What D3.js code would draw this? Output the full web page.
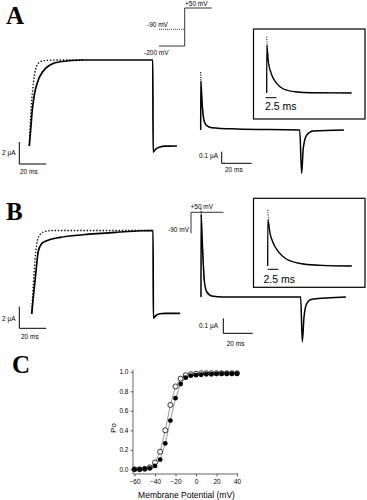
<!DOCTYPE html>
<html>
<head>
<meta charset="utf-8">
<script src="https://cdn.jsdelivr.net/npm/d3@7"></script>
<style>
body { margin: 0; background: #fff; }
svg { display: block; }
text { font-family: "Liberation Sans", Arial, sans-serif; fill: #000; }
.lbl { font-size: 6.5px; }
.ins { font-size: 10.5px; }
.big { font-family: "Liberation Serif", "Times New Roman", serif; font-weight: bold; font-size: 25px; }
</style>
</head>
<body>
<div id="chart"></div>
<script>
// ----------------------------------------------------------
// DATA (time in ms, current in µA)

// panel A, long step current
const aSolid = [[0,0],[1.0,1.45],[2.2,3.27],[3.7,4.64],[6.2,5.85],[9.9,6.75],[15.3,7.36],[22.7,7.66],[39.8,7.82],[91.5,7.82],[91.7,-0.55],[93.8,-0.27],[96.8,-0.09],[100.5,-0.02],[109.4,0]]
const aDotted = [[0,0],[1.26,3.27],[2.5,5.1],[3.7,6.36],[5.5,7.27],[7.9,7.64],[11.6,7.77],[22.7,7.82],[40,7.82]]
// panel A, gating transient
const aTransSolid = [[0,0],[0.05,0.42],[1.1,0.2],[2.4,0.072],[4,0.037],[7.3,0.02],[24,0.009],[66,0],[67.3,-0.373],[68.4,-0.155],[70.7,-0.043],[75,-0.009],[95.5,0]]
const aTransDotted = [[0,0.5],[0.5,0.3],[1.1,0.21],[2.4,0.075],[4,0.038]]
const aInsetSolid = [[0,0],[0.02,0.417],[0.36,0.272],[1.14,0.157],[2.27,0.084],[3.77,0.035],[6.4,0.011],[10.2,0.002],[19.3,0]]
const aInsetDotted = [[0,0.49],[0.36,0.29],[1.14,0.165],[2.27,0.088],[3.77,0.037],[6.4,0.012],[10.2,0.003],[19.3,0]]

// panel B
const bSolid = [[0,0],[1.2,1.57],[3.2,4.0],[4.9,5.82],[7.4,6.52],[11.1,6.79],[21,7.09],[38,7.34],[63,7.57],[89.9,7.73],[90.1,-0.39],[92,-0.14],[95,0.02],[98.7,0.06],[110,0.06]]
const bDotted = [[0,0],[1.2,2.82],[2.4,4.9],[3.7,6.45],[6.1,7.36],[9.9,7.64],[15.8,7.73],[90,7.73]]
const bTransSolid = [[0,0],[0.05,0.55],[0.9,0.358],[2.2,0.113],[3.9,0.035],[7.3,0.007],[15,0],[67.8,0],[68.9,-0.298],[70.1,-0.131],[72,-0.042],[75.4,-0.015],[98.6,0]]
const bTransDotted = [[0,0.59],[0.4,0.45],[0.9,0.36],[2.2,0.115]]
const bInsetSolid = [[0,0],[0.02,0.548],[0.54,0.389],[1.32,0.27],[2.5,0.17],[4.47,0.08],[8.4,0.024],[12.3,0.008],[19.8,0]]
const bInsetDotted = [[0,0.667],[0.3,0.5],[0.54,0.41],[1.32,0.28],[2.5,0.175],[4.47,0.082],[8.4,0.025],[19.8,0]]

// voltage protocols (mV) and times (ms)
const protoPreA = [-200, -90]
const protoStep = 50
const protoTimesA = [-19, 0, 20]
const protoPreB = -90
const protoTimesB = [0, 24]

// panel C, open probability vs membrane potential
const voltages = [-60,-55,-50,-45,-40,-35,-30,-25,-20,-15,-10,-5,0,5,10,15,20,25,30,35,40]
const poFilled = [0,0,0.005,0.01,0.035,0.10,0.265,0.50,0.73,0.875,0.94,0.96,0.965,0.97,0.975,0.975,0.978,0.98,0.98,0.98,0.98]
const poOpen = [0,0,0.005,0.02,0.07,0.18,0.40,0.66,0.85,0.93,0.965,0.975,0.98,0.985,0.985,0.985,0.985,0.985,0.985,0.985,0.985]
const xTicks = [-60,-40,-20,0,20,40]
const yTicks = [0,0.2,0.4,0.6,0.8,1.0]

// ----------------------------------------------------------
// SVG

const svg = d3.select("#chart").append("svg").attr("width", 367).attr("height", 500)

const lineGen = (xs, ys) => d3.line().x(d => xs(d[0])).y(d => ys(d[1])).curve(d3.curveMonotoneX)

function trace(data, xs, ys, w, dash) {
    svg.append("path").datum(data)
        .attr("d", lineGen(xs, ys))
        .attr("fill", "none").attr("stroke", "#000")
        .attr("stroke-width", w)
        .attr("stroke-linejoin", "round")
        .attr("stroke-dasharray", dash || null)
}

function scaleBar(x0, y0, xs, ys, tLen, iLen) {
    const h = ys ? ys(0) - ys(iLen) : 0
    const w = xs(tLen) - xs(0)
    svg.append("path")
        .attr("d", `M${x0},${y0 - h}V${y0}H${x0 + w}`)
        .attr("fill", "none").attr("stroke", "#000").attr("stroke-width", 1)
}

function label(x, y, txt, cls, anchor) {
    svg.append("text").attr("x", x).attr("y", y).attr("class", cls)
        .attr("text-anchor", anchor || "start").text(txt)
}

// PANEL LETTERS
label(6, 24, "A", "big")
label(6, 220, "B", "big")
label(12, 373, "C", "big")

// ----------------------------------------------------------
// PANEL A

const xA = d3.scaleLinear().domain([0, 20]).range([29.3, 56.3])
const yA = d3.scaleLinear().domain([0, 2]).range([146, 124])
trace(aDotted, xA, yA, 1.3, "1.4,1.8")
trace(aSolid, xA, yA, 1.7)
scaleBar(19.3, 164, xA, yA, 20, 2)
label(2, 154.5, "2 µA", "lbl")
label(20, 174, "20 ms", "lbl")

// protocol A
const tPA = d3.scaleLinear().domain([0, 20]).range([184.7, 211.7])
const vPA = d3.scaleLinear().domain([-200, 50]).range([46, 8])
svg.append("path")
    .attr("d", `M${tPA(protoTimesA[0])},${vPA(protoPreA[0])}H${tPA(protoTimesA[1])}V${vPA(protoStep)}H${tPA(protoTimesA[2])}`)
    .attr("fill", "none").attr("stroke", "#000").attr("stroke-width", 0.8)
svg.append("path")
    .attr("d", `M${tPA(protoTimesA[0])},${vPA(protoPreA[1])}H${tPA(protoTimesA[1])}`)
    .attr("fill", "none").attr("stroke", "#000").attr("stroke-width", 0.8).attr("stroke-dasharray", "1,1")
label(185, 5.5, "+50 mV", "lbl")
label(147, 26.5, "-90 mV", "lbl")
label(144, 54.5, "-200 mV", "lbl")

// transient A
const xAT = d3.scaleLinear().domain([0, 20]).range([200.7, 230.7])
const yAT = d3.scaleLinear().domain([0, 0.1]).range([130, 118.4])
trace(aTransDotted, xAT, yAT, 1.1, "1.2,1.2")
trace(aTransSolid, xAT, yAT, 1.5)
scaleBar(221.7, 163.3, xAT, yAT, 20, 0.1)
label(218, 157.5, "0.1 µA", "lbl", "end")
label(225, 171.5, "20 ms", "lbl")

// inset A
svg.append("rect").attr("x", 253.5).attr("y", 29).attr("width", 111.5).attr("height", 90)
    .attr("fill", "none").attr("stroke", "#000").attr("stroke-width", 1.2)
const xAI = d3.scaleLinear().domain([0, 2.5]).range([266.7, 277.7])
const yAI = d3.scaleLinear().domain([0, 0.1]).range([93, 81.5])
trace(aInsetSolid, xAI, yAI, 1.3)
trace(aInsetDotted, xAI, yAI, 1, "1,1.3")
scaleBar(265.5, 97.7, xAI, null, 2.5, 0)
label(265, 110.3, "2.5 ms", "ins")

// ----------------------------------------------------------
// PANEL B

const xB = d3.scaleLinear().domain([0, 20]).range([31.7, 58.7])
const yB = d3.scaleLinear().domain([0, 2]).range([314, 292.4])
trace(bDotted, xB, yB, 1.3, "1.4,1.8")
trace(bSolid, xB, yB, 1.7)
scaleBar(19.3, 328.3, xB, yB, 20, 2)
label(2, 320.5, "2 µA", "lbl")
label(21, 338.5, "20 ms", "lbl")

// protocol B
const tPB = d3.scaleLinear().domain([0, 20]).range([191, 218])
const vPB = d3.scaleLinear().domain([-90, 50]).range([233.3, 212.3])
svg.append("path")
    .attr("d", `M${tPB(protoTimesB[0])},${vPB(protoPreB)}V${vPB(protoStep)}H${tPB(protoTimesB[1])}`)
    .attr("fill", "none").attr("stroke", "#000").attr("stroke-width", 0.8)
label(190.5, 209.3, "+50 mV", "lbl")
label(189, 232, "-90 mV", "lbl", "end")

// transient B
const xBT = d3.scaleLinear().domain([0, 20]).range([201, 230.4])
const yBT = d3.scaleLinear().domain([0, 0.1]).range([297, 282])
trace(bTransDotted, xBT, yBT, 1.1, "1.2,1.2")
trace(bTransSolid, xBT, yBT, 1.5)
scaleBar(223.3, 333.3, xBT, yBT, 20, 0.1)
label(218, 327.5, "0.1 µA", "lbl", "end")
label(226.7, 345.8, "20 ms", "lbl")

// inset B
svg.append("rect").attr("x", 253.5).attr("y", 198.3).attr("width", 111.5).attr("height", 89)
    .attr("fill", "none").attr("stroke", "#000").attr("stroke-width", 1.2)
const xBI = d3.scaleLinear().domain([0, 2.5]).range([267.7, 278.3])
const yBI = d3.scaleLinear().domain([0, 0.1]).range([266, 257.6])
trace(bInsetSolid, xBI, yBI, 1.3)
trace(bInsetDotted, xBI, yBI, 1, "1,1.3")
scaleBar(267.7, 269.3, xBI, null, 2.5, 0)
label(263.5, 282.7, "2.5 ms", "ins")

// ----------------------------------------------------------
// PANEL C

const xC = d3.scaleLinear().domain([-60, 40]).range([134.5, 237])
const yC = d3.scaleLinear().domain([0, 1]).range([469.3, 371.8])

const yAxisC = d3.axisLeft(yC).tickValues(yTicks).tickFormat(d3.format(".1f")).tickSize(2.5).tickSizeOuter(0).tickPadding(2)
const xAxisC = d3.axisBottom(xC).tickValues(xTicks).tickFormat(d3.format("d")).tickSize(2.5).tickSizeOuter(0).tickPadding(3)

const gy = svg.append("g").attr("transform", "translate(133,0)").call(yAxisC)
const gx = svg.append("g").attr("transform", "translate(0,474)").call(xAxisC)
gy.select(".domain").attr("d", `M0,${yC(1) - 2}V${474}`)
gx.select(".domain").attr("d", `M${133},0H${xC(40) + 1}`)
for (const g of [gx, gy]) {
    g.selectAll("text").attr("font-size", 6.5).attr("font-family", "Liberation Sans, Arial, sans-serif")
    g.selectAll("path, line").attr("stroke", "#000").attr("stroke-width", 0.6)
}

const ptsOpen = voltages.map((v, i) => [v, poOpen[i]])
const ptsFilled = voltages.map((v, i) => [v, poFilled[i]])
const straight = d3.line().x(d => xC(d[0])).y(d => yC(d[1]))

svg.append("path").datum(ptsOpen).attr("d", straight).attr("fill", "none").attr("stroke", "#555").attr("stroke-width", 0.6)
svg.append("path").datum(ptsFilled).attr("d", straight).attr("fill", "none").attr("stroke", "#555").attr("stroke-width", 0.6)

svg.append("g").selectAll("circle").data(ptsOpen).enter().append("circle")
    .attr("cx", d => xC(d[0])).attr("cy", d => yC(d[1])).attr("r", 2.5)
    .attr("fill", "#fff").attr("stroke", "#000").attr("stroke-width", 0.8)
svg.append("g").selectAll("circle").data(ptsFilled).enter().append("circle")
    .attr("cx", d => xC(d[0])).attr("cy", d => yC(d[1])).attr("r", 2.4)
    .attr("fill", "#000")

svg.append("text").attr("transform", "translate(115.5,428) rotate(-90)")
    .attr("text-anchor", "middle").attr("font-size", 8).text("Po")
svg.append("text").attr("x", 186.5).attr("y", 497.5)
    .attr("text-anchor", "middle").attr("font-size", 8.5).text("Membrane Potential (mV)")
</script>
</body>
</html>
